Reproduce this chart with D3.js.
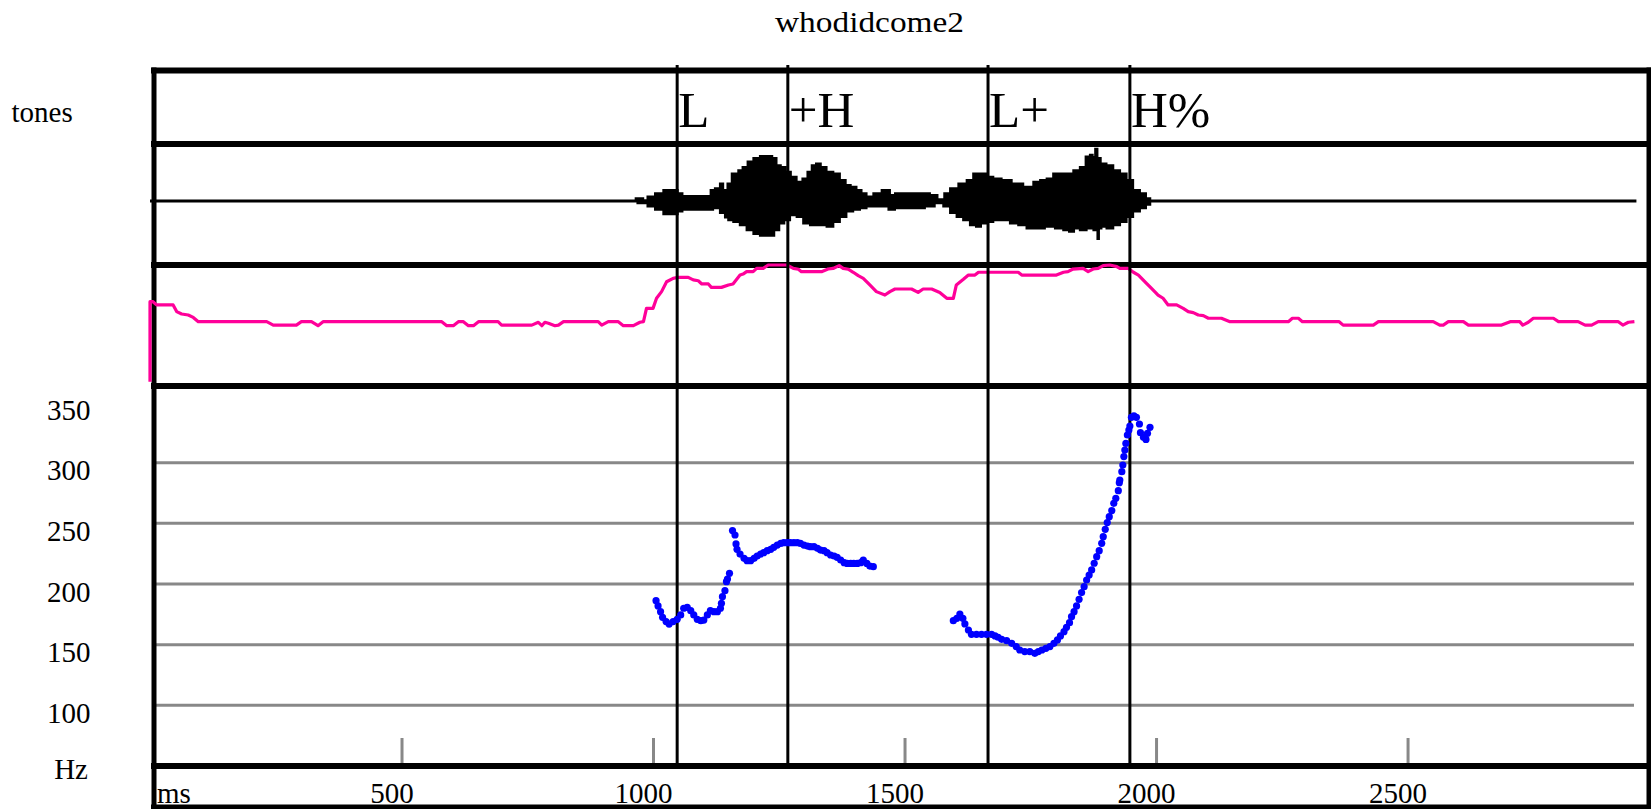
<!DOCTYPE html>
<html><head><meta charset="utf-8">
<script src="https://cdn.jsdelivr.net/npm/d3@7"></script>
<style>
html,body{margin:0;padding:0;background:#fff;}
svg{display:block;}
text{font-family:"Liberation Serif","Times New Roman",Times,serif;fill:#000;}
</style></head><body>
<svg id="chart" width="1651" height="809"></svg>
<script>
// ---------- data ----------
const title = "whodidcome2";
const toneLabels = ["L", "+H", "L+", "H%"];
const toneTimes = [1048, 1268, 1666, 1948];          // ms
const timeTicks = [500, 1000, 1500, 2000, 2500];      // ms
const hzLabels = [100, 150, 200, 250, 300, 350];      // Hz
const hzGrid = [100, 150, 200, 250, 300];             // Hz

// waveform envelope [ms, amplitude (-1..1)]
const waveUpper = [[954,0],[977,0.05],[984,0.01],[994,0.08],[1014,0.14],[1027,0.2],[1044,0.2],[1054,0.14],[1063,0.09],[1113,0.09],[1116,0.2],[1130,0.23],[1136,0.32],[1143,0.2],[1153,0.32],[1160,0.5],[1166,0.5],[1173,0.56],[1183,0.62],[1193,0.72],[1206,0.78],[1219,0.82],[1232,0.82],[1242,0.78],[1249,0.65],[1259,0.62],[1269,0.53],[1279,0.44],[1292,0.35],[1302,0.41],[1312,0.53],[1319,0.65],[1329,0.68],[1338,0.62],[1352,0.53],[1365,0.5],[1378,0.38],[1388,0.29],[1398,0.26],[1411,0.2],[1418,0.14],[1431,0.08],[1445,0.14],[1464,0.2],[1478,0.11],[1484,0.14],[1544,0.14],[1557,0.11],[1574,0.03],[1584,0.14],[1597,0.23],[1617,0.32],[1630,0.38],[1643,0.5],[1657,0.5],[1670,0.44],[1683,0.41],[1703,0.38],[1723,0.32],[1749,0.26],[1763,0.35],[1776,0.38],[1789,0.41],[1802,0.5],[1829,0.5],[1842,0.56],[1855,0.62],[1865,0.81],[1872,0.84],[1876,0.8],[1882,0.95],[1885,0.78],[1895,0.68],[1908,0.65],[1922,0.56],[1935,0.5],[1948,0.38],[1961,0.2],[1975,0.14],[1985,0.05],[1992,0]];
const waveLower = [[954,0],[984,-0.04],[994,-0.1],[1014,-0.16],[1027,-0.24],[1044,-0.24],[1054,-0.19],[1063,-0.16],[1113,-0.16],[1126,-0.13],[1140,-0.22],[1146,-0.3],[1153,-0.35],[1166,-0.38],[1179,-0.44],[1193,-0.53],[1206,-0.6],[1219,-0.63],[1236,-0.63],[1246,-0.53],[1256,-0.41],[1266,-0.35],[1279,-0.26],[1292,-0.29],[1305,-0.41],[1319,-0.44],[1338,-0.44],[1352,-0.47],[1365,-0.38],[1378,-0.29],[1391,-0.19],[1405,-0.16],[1418,-0.13],[1431,-0.1],[1458,-0.1],[1478,-0.16],[1484,-0.13],[1531,-0.13],[1550,-0.1],[1570,-0.04],[1584,-0.1],[1597,-0.22],[1610,-0.29],[1623,-0.35],[1637,-0.44],[1647,-0.47],[1657,-0.41],[1670,-0.38],[1683,-0.35],[1703,-0.35],[1716,-0.41],[1736,-0.44],[1749,-0.5],[1769,-0.5],[1789,-0.47],[1809,-0.5],[1822,-0.53],[1832,-0.56],[1842,-0.5],[1855,-0.53],[1869,-0.5],[1882,-0.53],[1885,-0.69],[1888,-0.5],[1895,-0.47],[1908,-0.5],[1922,-0.44],[1935,-0.38],[1948,-0.29],[1961,-0.19],[1975,-0.13],[1985,-0.07],[1992,0]];

// intensity contour [ms, dB]
const intensity = [[0,32.1],[0,71.8],[6,71.8],[13,70.2],[46,70.2],[53,66.9],[63,65.7],[76,65.2],[86,64.0],[96,61.9],[232,61.9],[245,60.2],[291,60.2],[301,61.9],[321,61.9],[334,59.9],[344,61.9],[580,61.9],[590,59.9],[603,59.9],[613,61.9],[623,61.9],[633,59.9],[643,59.9],[653,61.9],[692,61.9],[699,60.2],[759,60.2],[772,61.6],[779,59.9],[785,61.6],[792,61.1],[805,59.9],[812,60.2],[822,61.9],[891,61.9],[898,60.2],[911,61.9],[931,61.9],[941,59.9],[961,59.9],[974,61.6],[981,61.9],[987,68.5],[1000,68.5],[1007,73.5],[1017,76.8],[1027,81.7],[1040,83.4],[1050,83.9],[1070,83.9],[1080,82.6],[1090,82.2],[1097,80.6],[1110,80.6],[1116,78.9],[1136,78.9],[1150,80.1],[1159,80.6],[1173,85.0],[1179,85.5],[1186,86.7],[1199,86.7],[1206,88.3],[1219,88.3],[1229,90.0],[1266,90.0],[1279,88.3],[1289,87.9],[1295,86.7],[1335,86.7],[1348,88.0],[1358,88.3],[1370,89.7],[1378,88.3],[1388,87.9],[1398,86.4],[1408,84.7],[1418,83.4],[1431,80.1],[1444,76.8],[1461,75.1],[1471,76.8],[1481,78.1],[1514,78.1],[1527,76.4],[1537,78.1],[1554,78.1],[1570,76.4],[1584,73.5],[1597,73.5],[1603,80.1],[1617,82.9],[1627,85.0],[1640,85.0],[1647,86.4],[1726,86.4],[1733,85.0],[1802,85.0],[1816,86.4],[1825,86.7],[1835,88.0],[1855,88.3],[1865,86.7],[1875,88.0],[1885,88.3],[1895,89.7],[1908,90.0],[1922,89.2],[1928,88.3],[1945,88.3],[1955,86.4],[1965,85.0],[1981,80.9],[1991,78.4],[2004,75.1],[2014,73.5],[2024,70.2],[2041,70.2],[2054,68.5],[2064,66.9],[2074,66.4],[2084,65.2],[2094,64.9],[2104,63.6],[2130,63.6],[2147,61.9],[2263,61.9],[2271,63.6],[2283,63.6],[2291,61.9],[2364,61.9],[2372,60.2],[2432,60.2],[2442,61.9],[2551,61.9],[2564,60.2],[2571,60.2],[2581,61.9],[2611,61.9],[2621,60.2],[2687,60.2],[2704,61.9],[2723,61.9],[2729,60.2],[2740,61.6],[2750,63.6],[2790,63.6],[2800,61.9],[2839,61.9],[2853,60.2],[2866,60.2],[2879,61.9],[2919,61.9],[2928,60.2],[2939,61.6],[2951,61.9]];

// F0 points [ms, Hz]
const f0 = [[1006,186.3],[1010,181.9],[1015,177.2],[1019,172.5],[1026,169.0],[1032,167.0],[1040,169.0],[1048,170.9],[1055,174.5],[1061,180.0],[1068,180.8],[1075,178.0],[1081,174.5],[1088,170.9],[1095,169.8],[1101,170.3],[1108,174.5],[1114,178.0],[1121,177.2],[1128,177.2],[1134,180.0],[1136,184.1],[1138,189.6],[1143,194.5],[1146,201.9],[1148,204.1],[1152,208.8],
[1158,244.0],[1163,240.4],[1165,233.0],[1167,228.6],[1173,224.7],[1181,221.2],[1187,219.2],[1194,219.2],[1201,221.2],[1207,223.1],[1214,224.7],[1220,225.8],[1227,227.5],[1234,228.6],[1240,230.2],[1247,232.1],[1254,233.5],[1260,234.1],[1267,234.1],[1273,234.1],[1280,234.1],[1287,234.1],[1293,233.5],[1300,232.1],[1307,231.3],[1313,230.8],[1320,230.8],[1327,229.4],[1333,228.0],[1340,227.5],[1346,225.8],[1353,223.9],[1360,223.1],[1366,222.0],[1373,219.8],[1380,217.6],[1386,217.0],[1393,217.0],[1399,217.0],[1406,217.0],[1413,217.6],[1418,219.8],[1425,217.0],[1431,214.8],[1438,214.3],
[1597,169.8],[1604,171.7],[1610,175.3],[1616,171.7],[1620,167.1],[1627,162.1],[1633,158.5],[1643,158.5],[1653,158.5],[1663,158.5],[1673,158.5],[1680,157.2],[1686,156.1],[1693,154.4],[1703,153.3],[1713,151.1],[1722,148.4],[1729,145.6],[1739,144.3],[1749,144.3],[1759,142.9],[1766,144.3],[1773,145.6],[1781,147.0],[1789,148.4],[1797,151.1],[1804,153.9],[1810,157.2],[1817,160.7],[1822,164.3],[1828,168.1],[1832,173.1],[1837,177.2],[1842,181.9],[1847,187.4],[1852,192.9],[1857,197.8],[1862,203.3],[1867,207.4],[1872,211.6],[1877,217.1],[1882,222.5],[1887,227.5],[1892,233.5],[1895,239.0],[1899,245.1],[1903,250.6],[1907,255.5],[1912,260.5],[1916,266.5],[1920,270.6],[1925,276.9],[1927,283.5],[1928,285.7],[1932,292.6],[1934,298.1],[1936,305.0],[1938,310.4],[1940,315.9],[1943,322.8],[1946,326.9],[1948,330.2],[1951,337.4],[1956,338.5],[1961,337.4],[1967,331.9],[1969,324.7],[1975,320.9],[1980,319.2],[1983,324.2],[1988,329.1]];

// ---------- drawing ----------
const svg = d3.select("#chart");
const x = d3.scaleLinear().domain([0, 2980]).range([150, 1649]);
const yHz = d3.scaleLinear().domain([50, 363.2]).range([766, 386]);
const yAmp = d3.scaleLinear().domain([-1, 1]).range([256, 146]);
const yDb = d3.scaleLinear().domain([30, 90]).range([386, 265]);

const GRID = "#888888", PINK = "#ff0099", BLUE = "#0000ff";

// grid lines of the F0 panel
svg.append("g").selectAll("line").data(hzGrid).join("line")
  .attr("x1", 156).attr("x2", 1634)
  .attr("y1", d => yHz(d)).attr("y2", d => yHz(d))
  .attr("stroke", GRID).attr("stroke-width", 3);

// time axis (ticks point up into the F0 panel)
const xAxis = d3.axisBottom(x).tickValues(timeTicks).tickSize(-25).tickFormat(d3.format("d"));
const gx = svg.append("g").attr("transform", "translate(0,763)").call(xAxis);
gx.select(".domain").remove();
gx.selectAll(".tick line").attr("stroke", GRID).attr("stroke-width", 3);
gx.selectAll(".tick text")
  .attr("y", 39.5).attr("dy", 0).attr("dx", -10)
  .attr("fill", "#000").attr("font-size", 29)
  .attr("font-family", '"Liberation Serif","Times New Roman",serif');

// waveform
svg.append("line")
  .attr("x1", x(0)).attr("x2", x(2955)).attr("y1", yAmp(0)).attr("y2", yAmp(0))
  .attr("stroke", "#000").attr("stroke-width", 3);
const stepLine = d3.line().x(d => x(d[0])).y(d => yAmp(d[1])).curve(d3.curveStep);
svg.append("path")
  .attr("d", stepLine(waveUpper) + "L" + stepLine(waveLower.slice().reverse()).slice(1) + "Z")
  .attr("fill", "#000").attr("stroke", "#000").attr("stroke-width", 2)
  .attr("stroke-linejoin", "miter");

// frame
const rules = [70.5, 144, 265, 386, 766, 807.5];
svg.append("g").selectAll("line").data(rules).join("line")
  .attr("x1", 151).attr("x2", 1651)
  .attr("y1", d => d).attr("y2", d => d)
  .attr("stroke", "#000").attr("stroke-width", 6);
svg.append("line").attr("x1", 154).attr("x2", 154).attr("y1", 67.5).attr("y2", 809)
  .attr("stroke", "#000").attr("stroke-width", 5);
svg.append("line").attr("x1", 1649).attr("x2", 1649).attr("y1", 67.5).attr("y2", 809)
  .attr("stroke", "#000").attr("stroke-width", 5);

// intensity contour
svg.append("path")
  .attr("d", d3.line().x(d => x(d[0])).y(d => yDb(d[1]))(intensity))
  .attr("fill", "none").attr("stroke", PINK).attr("stroke-width", 3.2)
  .attr("stroke-linejoin", "round");

// tone boundaries
svg.append("g").selectAll("line").data(toneTimes).join("line")
  .attr("x1", d => x(d)).attr("x2", d => x(d))
  .attr("y1", 65).attr("y2", 766)
  .attr("stroke", "#000").attr("stroke-width", 3);

// tone labels
svg.append("g").selectAll("text").data(toneLabels).join("text")
  .attr("x", (d, i) => x(toneTimes[i]) + 1).attr("y", 126.5)
  .attr("font-size", 51).text(d => d);

// F0 points
svg.append("g").selectAll("circle").data(f0).join("circle")
  .attr("cx", d => x(d[0])).attr("cy", d => yHz(d[1])).attr("r", 3.6)
  .attr("fill", BLUE);

// y labels
svg.append("g").selectAll("text").data(hzLabels).join("text")
  .attr("x", 90.5).attr("y", d => yHz(d) + 17.5)
  .attr("text-anchor", "end").attr("font-size", 29).text(d => d);
svg.append("text").attr("x", 88).attr("y", 779).attr("text-anchor", "end")
  .attr("font-size", 29).text("Hz");
svg.append("text").attr("x", 157).attr("y", 802.5).attr("font-size", 29).text("ms");
svg.append("text").attr("x", 11.5).attr("y", 121.5).attr("font-size", 29).text("tones");

// title
svg.append("text").attr("x", 775).attr("y", 32.3).attr("font-size", 29)
  .attr("textLength", 189).attr("lengthAdjust", "spacingAndGlyphs").text(title);
</script>
</body></html>
